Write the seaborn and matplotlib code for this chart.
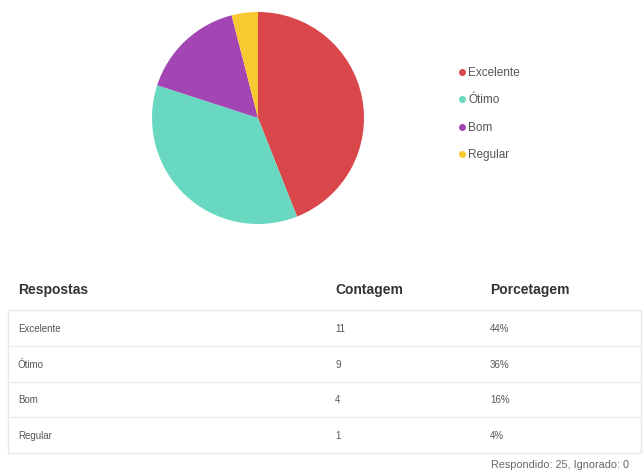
import matplotlib
matplotlib.use("Agg")
import matplotlib.pyplot as plt
import seaborn as sns
from matplotlib.lines import Line2D
from matplotlib.patches import Rectangle

sns.set_style("white")
plt.rcParams['font.family'] = ['Liberation Sans', 'DejaVu Sans']

# data
respostas = ['Excelente', 'Ótimo', 'Bom', 'Regular']
contagem = [11, 9, 4, 1]
porcentagem = ['44%', '36%', '16%', '4%']
cores = ['#d9474b', '#68d9c0', '#a346b3', '#f9c932']
headers = ['Respostas', 'Contagem', 'Porcetagem']
rodape = 'Respondido: 25, Ignorado: 0'

W, H = 644, 470
fig = plt.figure(figsize=(W / 100, H / 100), dpi=100)


def fx(px):
    return px / W


def fy(py):
    return 1 - py / H


# pie chart
cx, cy, r = 258, 118, 106
ax = fig.add_axes([fx(cx - r), fy(cy + r), 2 * r / W, 2 * r / H])
ax.pie(contagem, colors=cores, startangle=90, counterclock=False,
       radius=1, wedgeprops={'linewidth': 0})
ax.set_xlim(-1, 1)
ax.set_ylim(-1, 1)
ax.set_aspect('auto')
ax.axis('off')

# legend
handles = [Line2D([], [], marker='o', linestyle='', markersize=4,
                  markerfacecolor=c, markeredgecolor=c) for c in cores]
fig.legend(handles, respostas, loc='upper left',
           bbox_to_anchor=(fx(459), fy(67)), frameon=False,
           fontsize=8.5, handlelength=0.45, handletextpad=0.35,
           labelspacing=1.3, borderaxespad=0, borderpad=0,
           labelcolor='#555555')

# table
col_x = [18, 335, 490]
for x, h in zip(col_x, headers):
    fig.text(fx(x), fy(290), h, fontsize=10, fontweight='bold',
             color='#333333', va='center', ha='left')

top, bottom, left, right = 310, 453, 8, 641
fig.add_artist(Rectangle((fx(left), fy(bottom)), fx(right - left),
                         (bottom - top) / H, transform=fig.transFigure,
                         fill=False, edgecolor='#e8e8e8', linewidth=1))
row_h = (bottom - top) / len(respostas)
for i, (resp, cnt, pct) in enumerate(zip(respostas, contagem, porcentagem)):
    y = top + row_h * (i + 0.5) + 1
    fig.text(fx(18), fy(y), resp, fontsize=7, color='#555555', va='center')
    fig.text(fx(335), fy(y), str(cnt), fontsize=7, color='#555555', va='center')
    fig.text(fx(490), fy(y), pct, fontsize=7, color='#555555', va='center')
    if i > 0:
        yl = top + row_h * i
        fig.add_artist(Line2D([fx(left), fx(right)], [fy(yl), fy(yl)],
                              color='#ececec', linewidth=1))

fig.text(fx(491), fy(465), rodape, fontsize=7.8, color='#666666', va='center')

fig.savefig('out.png', dpi=100, facecolor='white')
